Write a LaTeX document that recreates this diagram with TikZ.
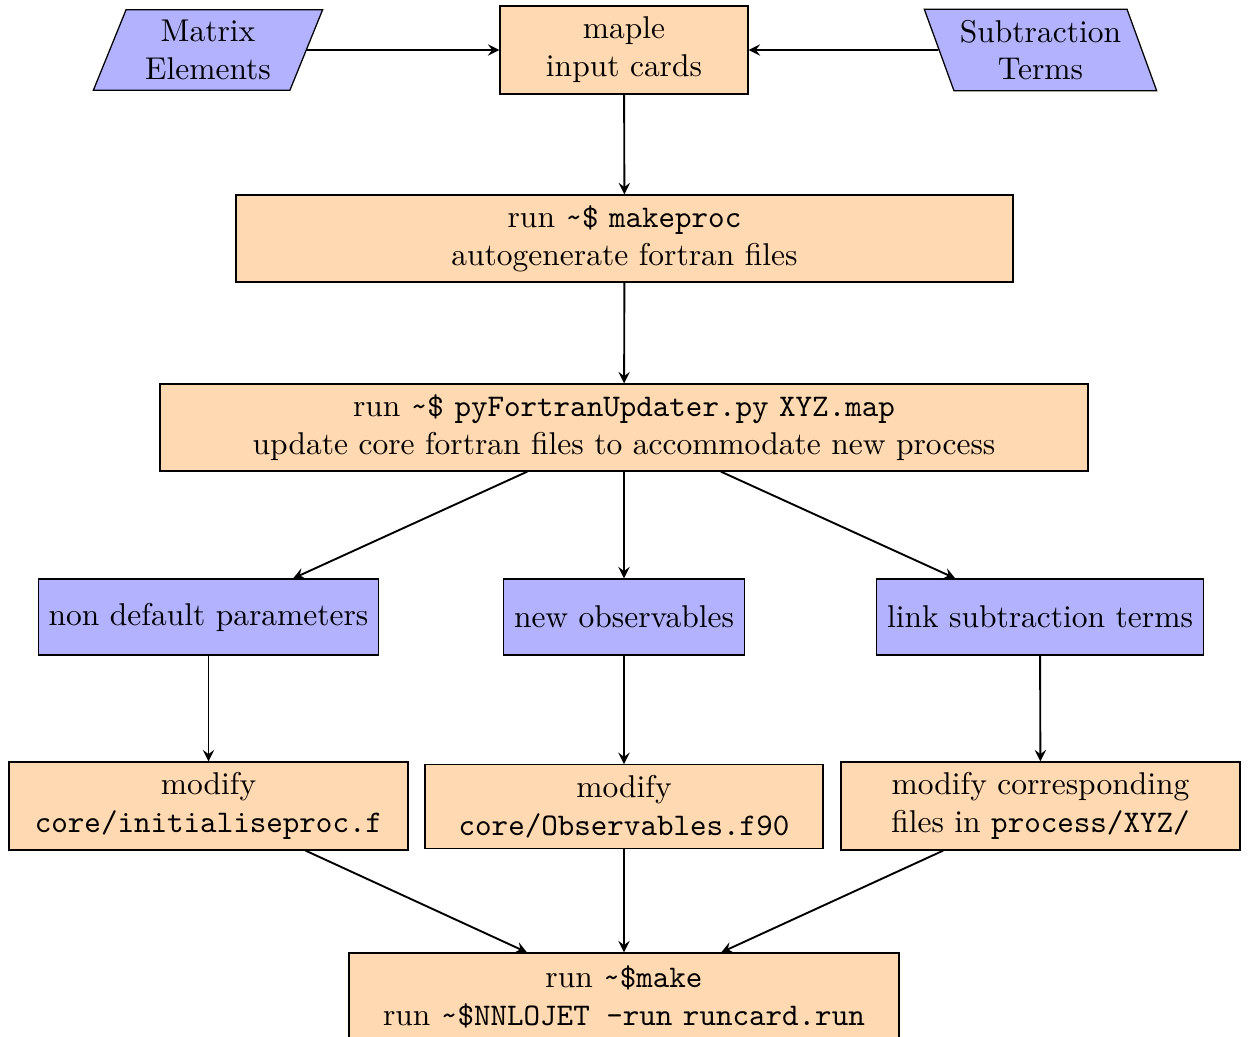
\documentclass[tikz,border=0pt]{standalone}
\usetikzlibrary{shapes.geometric,arrows}
\begin{document}
\def\px{0.3175pt}
\begin{tikzpicture}[x=0.3175pt,y=-0.3175pt,
  orbox/.style={draw, fill=orange!30, align=center, line width=0.4pt},
  blbox/.style={draw, fill=blue!30, align=center, line width=0.4pt, minimum height=76*\px},
  para/.style={draw, fill=blue!30, align=center, line width=0.4pt, trapezium, trapezium stretches=true, minimum width=230*\px, minimum height=80*\px},
  arr/.style={-stealth, semithick}]
\useasboundingbox (0,0) rectangle (1248,1037);
\node[para, trapezium left angle=70, trapezium right angle=110] (me) at (208,50) {Matrix\\Elements};
\node[orbox, minimum width=248*\px, minimum height=88*\px] (maple) at (624,50) {maple\\input cards};
\node[para, inner xsep=1.9pt, trapezium left angle=110, trapezium right angle=70] (st) at (1040.5,50) {Subtraction\\Terms};
\node[orbox, minimum width=777*\px, minimum height=87*\px] (mk) at (624.5,238.5) {run \texttt{\textasciitilde\$} \texttt{makeproc}\\autogenerate fortran files};
\node[orbox, minimum width=928*\px, minimum height=87*\px] (py) at (624,427.5) {run \texttt{\textasciitilde\$} \texttt{pyFortranUpdater.py} \texttt{XYZ.map}\\update core fortran files to accommodate new process};
\node[blbox] (ndp) at (208.5,617) {non default parameters};
\node[blbox] (obs) at (624,617) {new observables};
\node[blbox] (lnk) at (1040,617) {link subtraction terms};
\node[orbox, minimum width=399*\px, minimum height=88*\px] (m1) at (208.5,806) {modify\\\texttt{core/initialiseproc.f}};
\node[orbox, minimum width=398*\px, minimum height=83*\px] (m2) at (624,806.5) {modify\\\texttt{core/Observables.f90}};
\node[orbox, minimum width=399*\px, minimum height=88*\px] (m3) at (1040.5,806) {modify corresponding\\files in \texttt{process/XYZ/}};
\node[orbox, minimum width=550*\px, minimum height=88*\px] (fin) at (624,997) {run \texttt{\textasciitilde\$make}\\run \texttt{\textasciitilde\$NNLOJET -run} \texttt{runcard.run}};
\draw[arr] (me) -- (maple);
\draw[arr] (st) -- (maple);
\draw[arr] (maple) -- (mk);
\draw[arr] (mk) -- (py);
\draw[arr] (py) -- (ndp);
\draw[arr] (py) -- (obs);
\draw[arr] (py) -- (lnk);
\draw[arr] (ndp) -- (m1);
\draw[arr] (obs) -- (m2);
\draw[arr] (lnk) -- (m3);
\draw[arr] (m1) -- (fin);
\draw[arr] (m2) -- (fin);
\draw[arr] (m3) -- (fin);
\end{tikzpicture}
\end{document}
